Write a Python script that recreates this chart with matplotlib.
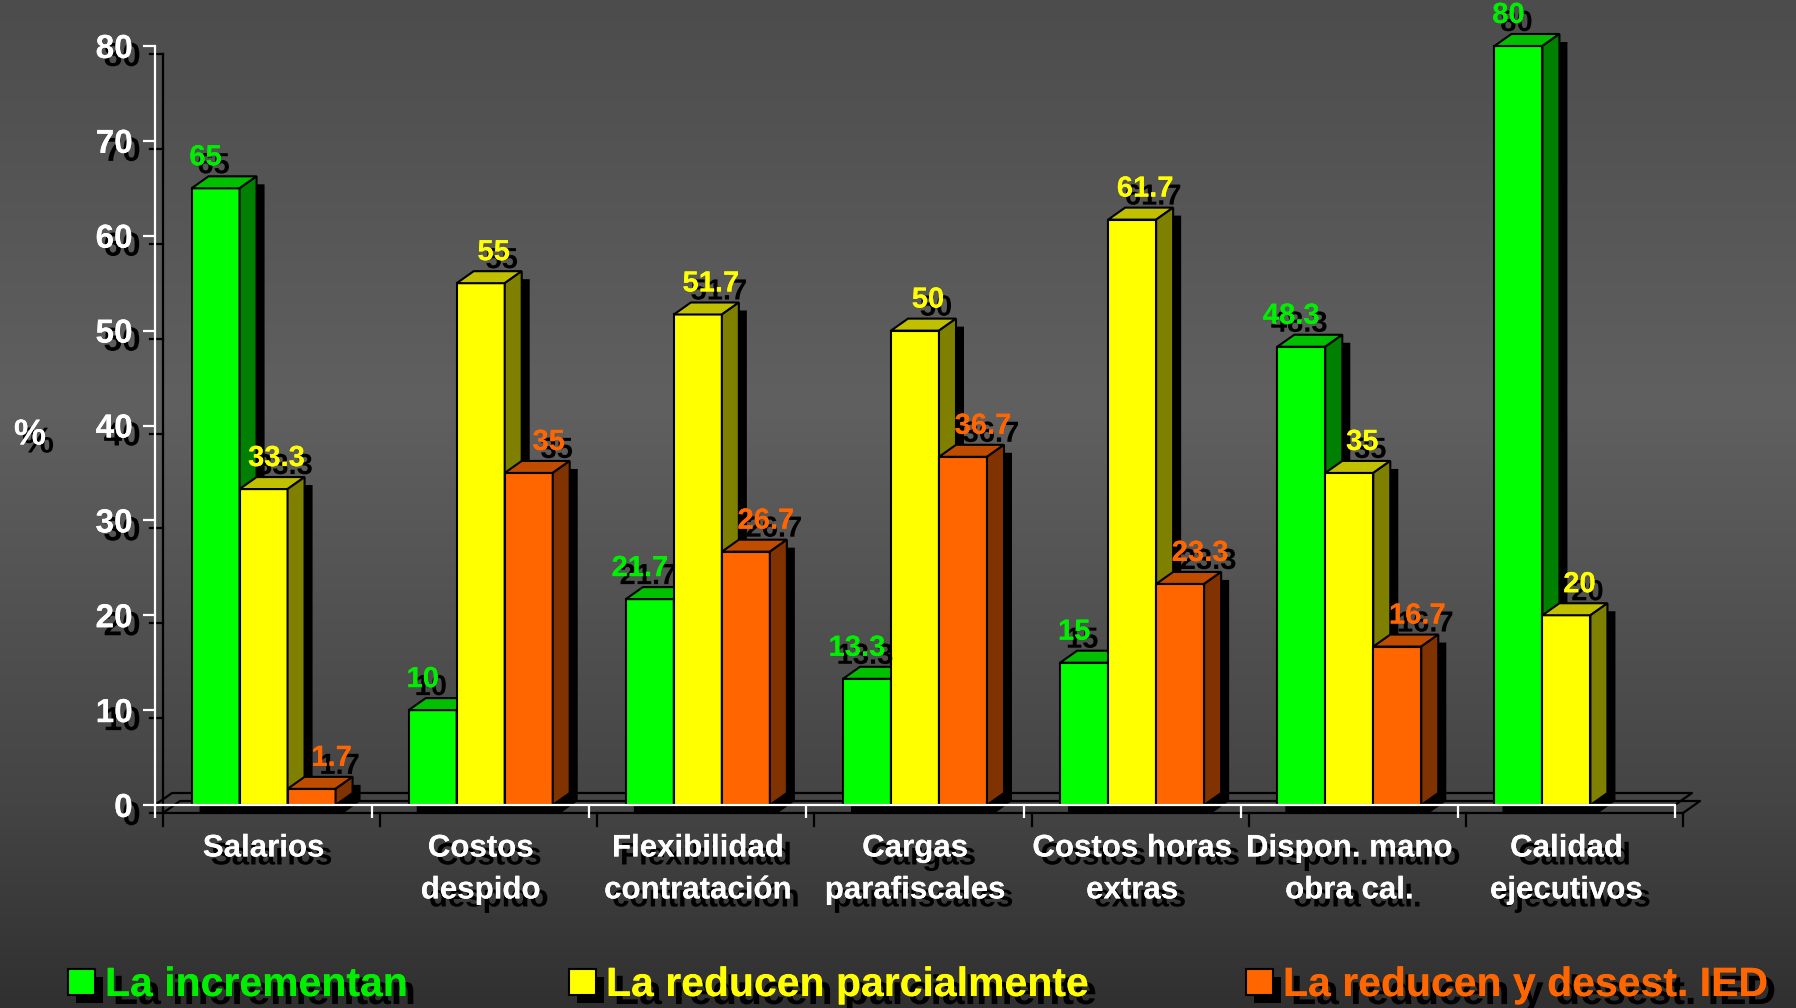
"""3D-style grouped bars: effect of labour factors on FDI (%), dark slide look."""

import numpy as np
import matplotlib
matplotlib.use("Agg")
import matplotlib.pyplot as plt
import matplotlib.patheffects as pe
from matplotlib.patches import Polygon, Rectangle
from matplotlib.transforms import offset_copy

# %% Data
categories = [
    "Salarios",
    "Costos\ndespido",
    "Flexibilidad\ncontratación",
    "Cargas\nparafiscales",
    "Costos horas\nextras",
    "Dispon. mano\nobra cal.",
    "Calidad\nejecutivos",
]
incrementan = [65, 10, 21.7, 13.3, 15, 48.3, 80]
reducen_parcial = [33.3, 55, 51.7, 50, 61.7, 35, 20]
reducen_desest = [1.7, 35, 26.7, 36.7, 23.3, 16.7, None]
series_names = ["La incrementan", "La reducen parcialmente",
                "La reducen y desest. IED"]
y_ticks = [0, 10, 20, 30, 40, 50, 60, 70, 80]

# %% Style / geometry (pixels on a 1796x1008 canvas)
W, H, DPI = 1796, 1008, 100
AX_L, AX_R, AX_T, AX_B = 155, 1675, 46, 805
DEPTH_PX = (17, 12)        # 3D depth offset of bar tops/sides
SHADOW_PX = 8              # drop shadow offset
BAR_PX = 48

FONT = "Liberation Sans"
colours = [  # front, top, side, label
    ("#00ff00", "#00c000", "#008000", "#00ee00"),
    ("#ffff00", "#c0c000", "#808000", "#ffff00"),
    ("#ff6600", "#c04c00", "#803300", "#ff6600"),
]
label_dx = [-10, 13, 20]   # pixel nudge of value labels per series

series = [incrementan, reducen_parcial, reducen_desest]
ncat = len(categories)
px_x = (AX_R - AX_L) / ncat
px_y = (AX_B - AX_T) / y_ticks[-1]
DX, DY = DEPTH_PX[0] / px_x, DEPTH_PX[1] / px_y
BW = BAR_PX / px_x

shadow_fx = [pe.withSimplePatchShadow(offset=(SHADOW_PX * 0.72, -SHADOW_PX * 0.72),
                                      shadow_rgbFace="k", alpha=1.0), pe.Normal()]

fig = plt.figure(figsize=(W / DPI, H / DPI), dpi=DPI)

# %% Background gradient
bg = fig.add_axes([0, 0, 1, 1], zorder=-10)
rows = np.interp(np.linspace(0, 1, 400), [0, 0.4, 0.8, 1.0],
                 [0x4c, 0x60, 0x44, 0x30]) / 255
bg.imshow(np.repeat(rows[:, None], 3, axis=1)[:, None, :].repeat(2, axis=1),
          aspect="auto", extent=[0, 1, 0, 1])
bg.set_axis_off()

# %% Main axes
ax = fig.add_axes([AX_L / W, 1 - AX_B / H, (AX_R - AX_L) / W, (AX_B - AX_T) / H])
ax.patch.set_alpha(0)
ax.set_xlim(0, ncat)
ax.set_ylim(0, y_ticks[-1])
for side in ("top", "right"):
    ax.spines[side].set_visible(False)
for side in ("left", "bottom"):
    ax.spines[side].set_color("white")
    ax.spines[side].set_linewidth(1.6)
    ax.spines[side].set_zorder(20)

ax.set_yticks(y_ticks)
ax.set_xticks(np.arange(ncat + 1))
ax.set_xticklabels([])
ax.tick_params(which="major", colors="white", length=9, width=1.6, direction="out")
ax.tick_params(axis="y", pad=7, labelsize=24)
centers = np.arange(ncat) + 0.5
ax.set_xticks(centers, categories, minor=True)
ax.tick_params(axis="x", which="minor", length=0, pad=20.5, labelsize=22.5,
               labelcolor="white")
for lbl in ax.get_yticklabels() + ax.get_xticklabels(minor=True):
    lbl.set_fontfamily(FONT)
    lbl.set_fontweight("bold")
    lbl.set_color("white")
    lbl.set_path_effects(shadow_fx)
for lbl in ax.get_xticklabels(minor=True):
    lbl.set_linespacing(1.52)

shadow_tr = offset_copy(ax.transData, fig=fig, x=SHADOW_PX, y=-SHADOW_PX, units="dots")
tick_x = 13 / px_x
tick_y = 13 / px_y

# floor plane and its shadow
floor_x = [0, DX, ncat + DX, ncat]
floor_y = [0, DY, DY, 0]
ax.plot(floor_x, floor_y, color="k", lw=1.6, zorder=1, clip_on=False)
ax.plot(floor_x, floor_y, color="k", lw=1.6, zorder=1, clip_on=False,
        transform=shadow_tr)
# shadow of the axes
ax.plot([0, 0, ncat], [y_ticks[-1], 0, 0], color="k", lw=1.6, zorder=1,
        clip_on=False, transform=shadow_tr)
for yt in y_ticks:
    ax.plot([-tick_x, 0], [yt, yt], color="k", lw=1.6, zorder=1, clip_on=False,
            transform=shadow_tr)
for xt in range(ncat + 1):
    ax.plot([xt, xt], [0, -tick_y], color="k", lw=1.6, zorder=1, clip_on=False,
            transform=shadow_tr)

# %% Bars
for s, vals in enumerate(series):
    front, top, side, lab = colours[s]
    idx = [i for i, v in enumerate(vals) if v is not None]
    xs = centers[idx] + (s - 1) * BW
    hs = [vals[i] for i in idx]
    z = 3 + 0.1 * s
    for x, h in zip(xs, hs):
        x0, x1 = x - BW / 2, x + BW / 2
        ax.add_patch(Polygon([(x0, 0), (x0, h), (x0 + DX, h + DY), (x1 + DX, h + DY),
                              (x1 + DX, DY), (x1, 0)], closed=True, fc="k", ec="none",
                             transform=shadow_tr, zorder=2, clip_on=False))
    ax.bar(xs, hs, width=BW, color=front, edgecolor="k", lw=1.5, zorder=z,
           clip_on=False)
    for x, h in zip(xs, hs):
        x0, x1 = x - BW / 2, x + BW / 2
        ax.add_patch(Polygon([(x0, h), (x0 + DX, h + DY), (x1 + DX, h + DY), (x1, h)],
                             closed=True, fc=top, ec="k", lw=1.5, zorder=z,
                             clip_on=False))
        ax.add_patch(Polygon([(x1, 0), (x1, h), (x1 + DX, h + DY), (x1 + DX, DY)],
                             closed=True, fc=side, ec="k", lw=1.5, zorder=z,
                             clip_on=False))
        ax.annotate(f"{h:g}", xy=(x, h), xytext=(label_dx[s], 17),
                    textcoords="offset pixels", ha="center", va="bottom",
                    color=lab, fontsize=21, fontweight="bold", family=FONT,
                    path_effects=shadow_fx, zorder=30, annotation_clip=False)

# %% Axis title and legend
fig.text(30 / W, 1 - 435 / H, "%", ha="center", va="center", color="white",
         fontsize=26, fontweight="bold", family=FONT, path_effects=shadow_fx)

legend_sq = [68, 569, 1246]
for s, name in enumerate(series_names):
    x = legend_sq[s]
    sq = dict(width=27 / W, height=26 / H, transform=fig.transFigure)
    fig.add_artist(Rectangle(((x + SHADOW_PX) / W, 1 - (995 + SHADOW_PX) / H),
                             fc="k", ec="none", **sq))
    fig.add_artist(Rectangle((x / W, 1 - 995 / H), fc=colours[s][0], ec="k",
                             lw=1.5, **sq))
    fig.text((x + 37) / W, 1 - 996 / H, name, ha="left", va="baseline",
             color=colours[s][3], fontsize=29.5, fontweight="bold", family=FONT,
             path_effects=shadow_fx)

fig.savefig("out.png", dpi=DPI)
